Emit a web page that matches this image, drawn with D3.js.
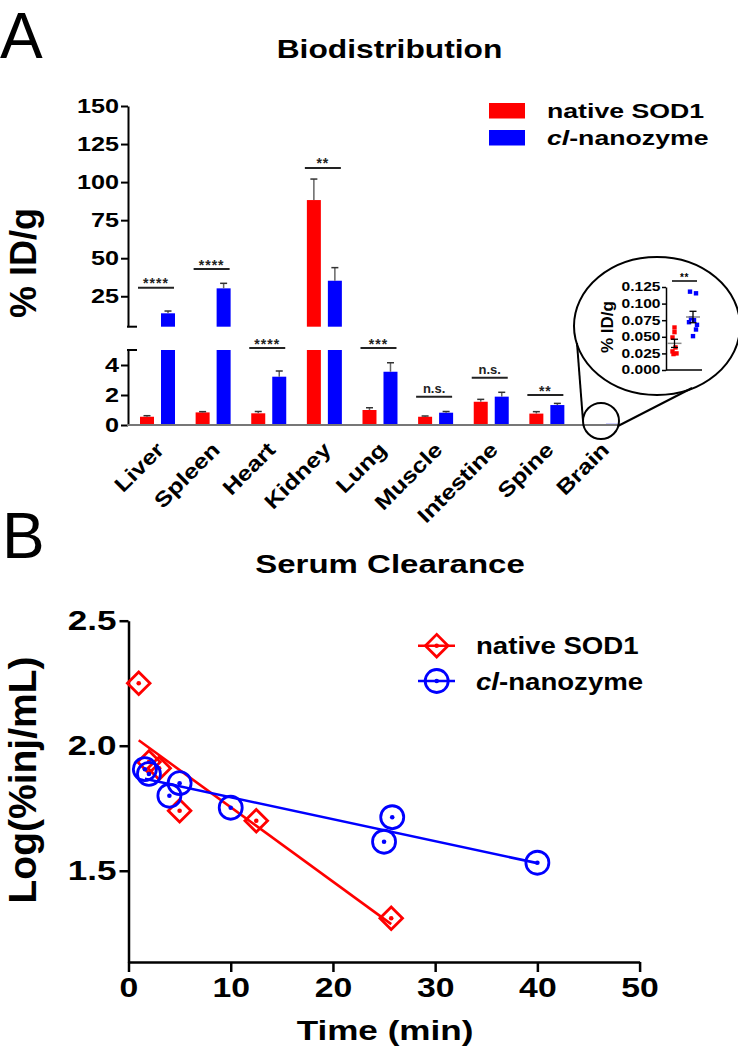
<!DOCTYPE html>
<html><head><meta charset="utf-8">
<script src="https://cdn.jsdelivr.net/npm/d3@7"></script>
<style>
html,body{margin:0;padding:0;background:#fff;}
svg{display:block;}
text{font-family:"Liberation Sans",Arial,Helvetica,sans-serif;}
</style>
</head><body>
<svg id="c" width="738" height="1050"></svg>
<script>
// ---------------- DATA ----------------
const organs = ["Liver","Spleen","Heart","Kidney","Lung","Muscle","Intestine","Spine","Brain"];
const seriesNames = ["native SOD1","cl-nanozyme"];
const nativeMean = [0.55, 0.84, 0.78, 88.2, 1.00, 0.55, 1.55, 0.76];
const nativeErr  = [0.07, 0.05, 0.12, 13.8, 0.15, 0.05, 0.16, 0.13];
const clMean     = [13.8, 30.2, 3.22, 35.2, 3.55, 0.82, 1.89, 1.33];
const clErr      = [1.5, 3.3, 0.38, 8.6, 0.60, 0.08, 0.29, 0.11];
const sigLabels  = ["****","****","****","**","***","n.s.","n.s.","**"];
const sigHeights = [30.6, 42.9, 5.13, 109.3, 5.13, 1.89, 3.15, 2.0];
const upperTicks = [25, 50, 75, 100, 125, 150];
const lowerTicks = [0, 2, 4];

// brain inset (individual animals, % ID/g)
const brainNative = [0.064, 0.057, 0.049, 0.034, 0.028, 0.025, 0.024];
const brainCl     = [0.118, 0.1155, 0.078, 0.075, 0.072, 0.068, 0.061, 0.051];
const insetTicks  = [0, 0.025, 0.05, 0.075, 0.1, 0.125];
const insetSig    = "**";

// serum clearance
const timeNative = [1, 2, 3, 5, 12.5, 25.7];
const logNative  = [2.25, 1.935, 1.91, 1.74, 1.70, 1.31];
const timeCl     = [1.6, 2, 4, 5, 10, 25, 25.8, 40];
const logCl      = [1.906, 1.887, 1.80, 1.85, 1.752, 1.616, 1.714, 1.532];
const timeTicks  = [0, 10, 20, 30, 40, 50];
const logTicks   = [1.5, 2.0, 2.5];

// ---------------- HELPERS ----------------
const RED = "#ff0000", BLUE = "#0000ff";
const svg = d3.select("#c");

function txt(parent, x, y, s, o = {}) {
  const t = parent.append("text")
    .attr("transform", `translate(${x},${y})` + (o.rot ? ` rotate(${o.rot})` : "") + (o.sx ? ` scale(${o.sx},1)` : ""))
    .attr("text-anchor", o.anchor || "start")
    .attr("font-size", o.size || 12)
    .attr("font-weight", o.weight || "bold")
    .attr("fill", o.fill || "#000");
  if (o.ls) t.attr("letter-spacing", o.ls);
  t.text(s);
  return t;
}
function styleAxis(g, o) {
  g.attr("font-family", null).attr("font-size", null);
  g.select(".domain").attr("stroke", o.color || "#000").attr("stroke-width", o.sw || 2);
  g.selectAll(".tick line").attr("stroke", o.color || "#000").attr("stroke-width", o.sw || 2);
  g.selectAll(".tick text").attr("font-size", o.size).attr("font-weight", "bold").attr("fill", "#000")
    .each(function () {
      const t = d3.select(this);
      const x = +t.attr("x") || 0;
      t.attr("x", x / o.sx).attr("transform", `scale(${o.sx},1)`);
    });
}
function regression(xs, ys) {
  const mx = d3.mean(xs), my = d3.mean(ys);
  let sxy = 0, sxx = 0;
  xs.forEach((x, i) => { sxy += (x - mx) * (ys[i] - my); sxx += (x - mx) * (x - mx); });
  const b = sxy / sxx;
  return { b, a: my - b * mx };
}
function sem(a) { return d3.deviation(a) / Math.sqrt(a.length); }

// ---------------- PANEL A ----------------
txt(svg, 0, 58, "A", { size: 64, weight: "normal" });
txt(svg, 389.5, 58, "Biodistribution", { size: 25, anchor: "middle", sx: 1.27 });

const gA = svg.append("g");
const x0 = d3.scaleBand().domain(organs).range([129.7, 630.3]);
const x1 = d3.scaleBand().domain(seriesNames).range([10.3, 45.3]).paddingInner(1 / 3);
const yLow = d3.scaleLinear().domain([0, 5]).range([425, 350]);
const yHigh = d3.scaleLinear().domain([5, 150]).range([326.7, 106]);
const yOf = v => v > 5 ? yHigh(v) : yLow(v);
const yBracket = v => v >= 10 ? yHigh(v) : yLow(v);

const natAll = nativeMean.concat([d3.mean(brainNative)]);
const clAll = clMean.concat([d3.mean(brainCl)]);
const errAll = [nativeErr.concat([null]), clErr.concat([null])];
const valsAll = [natAll, clAll];
const colors = [RED, BLUE];

organs.forEach((org, i) => {
  seriesNames.forEach((s, k) => {
    const v = valsAll[k][i];
    const xl = x0(org) + x1(s), w = x1.bandwidth();
    if (v <= 5) {
      gA.append("rect").attr("x", xl).attr("y", yLow(v)).attr("width", w).attr("height", yLow(0) - yLow(v)).attr("fill", colors[k]);
    } else {
      gA.append("rect").attr("x", xl).attr("y", yLow(5)).attr("width", w).attr("height", yLow(0) - yLow(5)).attr("fill", colors[k]);
      gA.append("rect").attr("x", xl).attr("y", yHigh(v)).attr("width", w).attr("height", yHigh(5) - yHigh(v)).attr("fill", colors[k]);
    }
    const e = errAll[k][i];
    if (e != null) {
      const cx = xl + w / 2;
      const yt = yOf(v + e), yb = yOf(v);
      gA.append("line").attr("x1", cx).attr("x2", cx).attr("y1", yb).attr("y2", yt).attr("stroke", "#666").attr("stroke-width", 1.5);
      gA.append("line").attr("x1", cx - 3.5).attr("x2", cx + 3.5).attr("y1", yt).attr("y2", yt).attr("stroke", "#333").attr("stroke-width", 1.5);
    }
  });
});

// significance brackets
sigLabels.forEach((lab, i) => {
  const org = organs[i];
  const xa = x0(org) + x1(seriesNames[0]) - 2;
  const xb = x0(org) + x1(seriesNames[1]) + x1.bandwidth() - 1;
  const y = yBracket(sigHeights[i]);
  gA.append("line").attr("x1", xa).attr("x2", xb).attr("y1", y).attr("y2", y).attr("stroke", "#222").attr("stroke-width", 2);
  if (lab.indexOf("*") >= 0) txt(gA, (xa + xb) / 2, y + 0.5, lab, { size: 14, anchor: "middle", ls: 1, fill: "#222" });
  else txt(gA, (xa + xb) / 2, y - 3.5, lab, { size: 13, anchor: "middle", fill: "#222" });
});

// axes
const gHigh = gA.append("g").attr("transform", "translate(128,0)")
  .call(d3.axisLeft(yHigh).tickValues(upperTicks).tickSize(7).tickPadding(2).tickSizeOuter(0));
styleAxis(gHigh, { size: 21, sx: 1.2 });
const gLow = gA.append("g").attr("transform", "translate(128,0)")
  .call(d3.axisLeft(yLow).tickValues(lowerTicks).tickFormat(d3.format("d")).tickSize(7).tickPadding(2).tickSizeOuter(0));
styleAxis(gLow, { size: 21, sx: 1.2 });
[yHigh(5), yLow(5)].forEach(y => gA.append("line").attr("x1", 127).attr("x2", 137).attr("y1", y).attr("y2", y).attr("stroke", "#000").attr("stroke-width", 2));

const gX = gA.append("g").attr("transform", `translate(0,${yLow(0)})`)
  .call(d3.axisBottom(x0).tickSize(0).tickSizeOuter(0));
gX.attr("font-family", null).attr("font-size", null);
gX.select(".domain").attr("d", "M127,0H620").attr("stroke", "#777").attr("stroke-width", 2);
gX.selectAll(".tick text").attr("y", null).attr("dy", null).attr("text-anchor", "end")
  .attr("font-size", 21).attr("font-weight", "bold").attr("fill", "#000")
  .attr("transform", "translate(8,26) rotate(-45) scale(1.2,1)");

txt(gA, 36, 263, "% ID/g", { size: 36, anchor: "middle", rot: -90 });

// legend A
seriesNames.forEach((s, k) => {
  const y = 103 + k * 27;
  gA.append("rect").attr("x", 489).attr("y", y).attr("width", 36).attr("height", 15.5).attr("fill", colors[k]);
  const t = txt(gA, 547, y + 14.5, "", { size: 21, sx: 1.27 });
  if (k === 0) t.text(s);
  else { t.append("tspan").attr("font-style", "italic").text("cl"); t.append("tspan").text("-nanozyme"); }
});

// inset / zoom circle
gA.append("circle").attr("cx", 601).attr("cy", 421).attr("r", 18).attr("fill", "none").attr("stroke", "#000").attr("stroke-width", 2);
gA.append("ellipse").attr("cx", 657).attr("cy", 326).attr("rx", 83).attr("ry", 69).attr("fill", "none").attr("stroke", "#000").attr("stroke-width", 2);
gA.append("line").attr("x1", 583).attr("y1", 421).attr("x2", 577).attr("y2", 343).attr("stroke", "#000").attr("stroke-width", 2);
gA.append("line").attr("x1", 618).attr("y1", 426).attr("x2", 692).attr("y2", 388).attr("stroke", "#000").attr("stroke-width", 2);

const yIn = d3.scaleLinear().domain([0, 0.125]).range([370, 287]);
const gIn = gA.append("g").attr("transform", "translate(666,0)")
  .call(d3.axisLeft(yIn).tickValues(insetTicks).tickFormat(d3.format(".3f")).tickSize(4).tickPadding(1.5).tickSizeOuter(0));
styleAxis(gIn, { size: 12, sx: 1.3, sw: 1.5 });
gA.append("line").attr("x1", 666).attr("x2", 702).attr("y1", yIn(0)).attr("y2", yIn(0)).attr("stroke", "#000").attr("stroke-width", 1.5);
txt(gA, 613, 327, "% ID/g", { size: 17, anchor: "middle", rot: -90 });

const xIn = d3.scalePoint().domain(seriesNames).range([674.5, 693]);
const jitN = [0, 0, -2, 1, -2, 2, -1];
const jitC = [-3, 3, -2, 1, -4, 4, 3, 0];
[[brainNative, jitN, RED], [brainCl, jitC, BLUE]].forEach(([arr, jit, col], k) => {
  const cx = xIn(seriesNames[k]);
  arr.forEach((v, i) => {
    gA.append("rect").attr("x", cx + jit[i] - 2.2).attr("y", yIn(v) - 2.2).attr("width", 4.4).attr("height", 4.4).attr("fill", col);
  });
  const m = d3.mean(arr), se = sem(arr);
  gA.append("line").attr("x1", cx - 7).attr("x2", cx + 7).attr("y1", yIn(m)).attr("y2", yIn(m)).attr("stroke", "#888").attr("stroke-width", 1.5);
  gA.append("line").attr("x1", cx).attr("x2", cx).attr("y1", yIn(m - se)).attr("y2", yIn(m + se)).attr("stroke", "#000").attr("stroke-width", 1.3);
  [m - se, m + se].forEach(v => gA.append("line").attr("x1", cx - 3.5).attr("x2", cx + 3.5).attr("y1", yIn(v)).attr("y2", yIn(v)).attr("stroke", "#000").attr("stroke-width", 1.3));
});
gA.append("line").attr("x1", 672).attr("x2", 697).attr("y1", 281).attr("y2", 281).attr("stroke", "#000").attr("stroke-width", 1.5);
txt(gA, 684.5, 281, insetSig, { size: 10, anchor: "middle", ls: 0.5 });

// ---------------- PANEL B ----------------
txt(svg, 2, 558, "B", { size: 64, weight: "normal" });
txt(svg, 390, 573, "Serum Clearance", { size: 25, anchor: "middle", sx: 1.32 });

const gB = svg.append("g");
const xB = d3.scaleLinear().domain([0, 50]).range([128.5, 639.6]);
const yB = d3.scaleLinear().domain([1.135, 2.5]).range([962, 620.7]);

const gBy = gB.append("g").attr("transform", "translate(128.5,0)")
  .call(d3.axisLeft(yB).tickValues(logTicks).tickFormat(d3.format(".1f")).tickSize(9).tickPadding(3).tickSizeOuter(0));
styleAxis(gBy, { size: 27, sx: 1.3, sw: 2.5 });
const gBx = gB.append("g").attr("transform", `translate(0,${yB.range()[0]})`)
  .call(d3.axisBottom(xB).tickValues(timeTicks).tickSize(10).tickPadding(6).tickSizeOuter(0));
styleAxis(gBx, { size: 27, sx: 1.25, sw: 2.5 });

txt(gB, 385, 1040, "Time (min)", { size: 27, anchor: "middle", sx: 1.3 });
txt(gB, 36, 780, "Log(%inj/mL)", { size: 39, anchor: "middle", rot: -90 });

const sets = [
  { t: timeNative, v: logNative, col: RED, sym: "diamond" },
  { t: timeCl, v: logCl, col: BLUE, sym: "circle" }
];
function marker(g, cx, cy, sym, col) {
  if (sym === "diamond") {
    g.append("rect").attr("x", -8).attr("y", -8).attr("width", 16).attr("height", 16)
      .attr("transform", `translate(${cx},${cy}) rotate(45)`).attr("fill", "none").attr("stroke", col).attr("stroke-width", 2.8);
  } else {
    g.append("circle").attr("cx", cx).attr("cy", cy).attr("r", 11.5).attr("fill", "none").attr("stroke", col).attr("stroke-width", 2.8);
  }
  g.append("circle").attr("cx", cx).attr("cy", cy).attr("r", 2.3).attr("fill", col);
}
sets.forEach(s => {
  const r = regression(s.t, s.v);
  const xa = d3.min(s.t), xb = d3.max(s.t);
  gB.append("line").attr("x1", xB(xa)).attr("y1", yB(r.a + r.b * xa)).attr("x2", xB(xb)).attr("y2", yB(r.a + r.b * xb))
    .attr("stroke", s.col).attr("stroke-width", 2.6);
});
sets.forEach(s => s.t.forEach((t, i) => marker(gB, xB(t), yB(s.v[i]), s.sym, s.col)));

// legend B
sets.forEach((s, k) => {
  const y = 645.7 + k * 35.3;
  gB.append("line").attr("x1", 418).attr("x2", 455).attr("y1", y).attr("y2", y).attr("stroke", s.col).attr("stroke-width", 2.6);
  marker(gB, 436.7, y, s.sym, s.col);
  const t = txt(gB, 476, y + 8.5, "", { size: 23, sx: 1.2 });
  if (k === 0) t.text(seriesNames[0]);
  else { t.append("tspan").attr("font-style", "italic").text("cl"); t.append("tspan").text("-nanozyme"); }
});
</script>
</body></html>
